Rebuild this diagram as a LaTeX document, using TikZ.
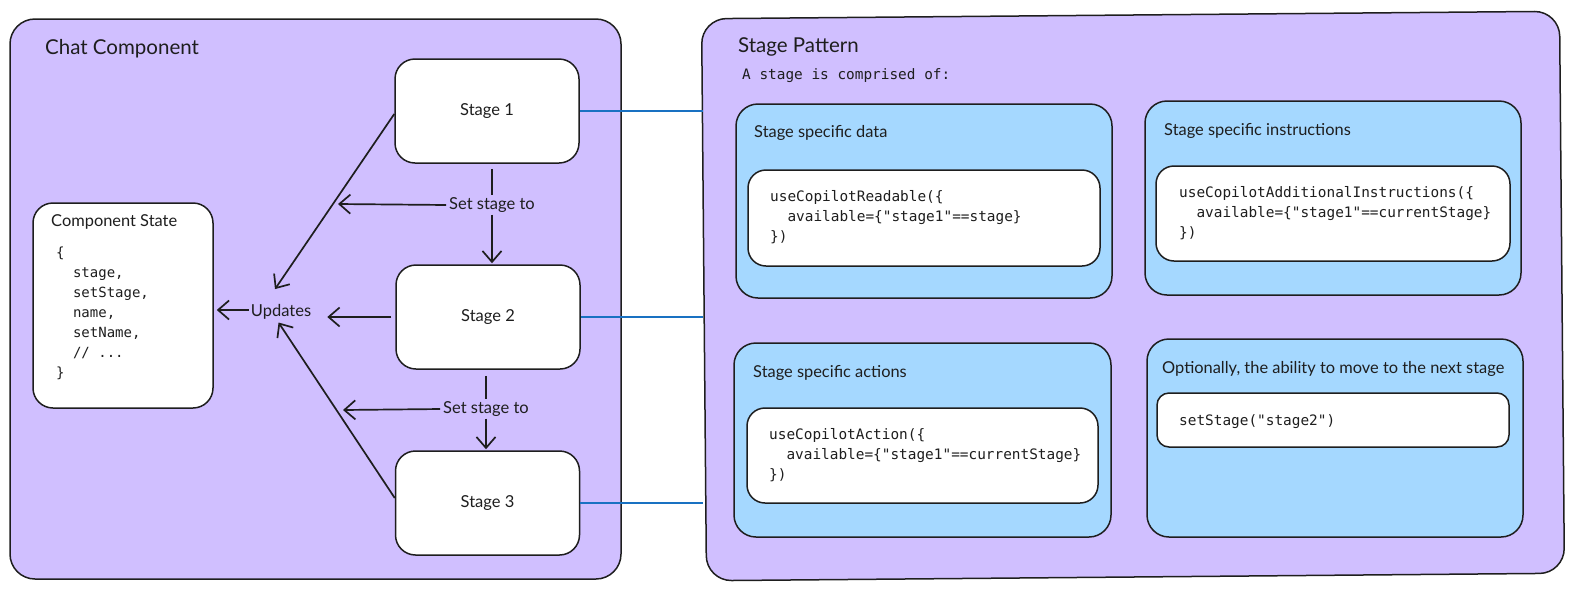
\documentclass[tikz,border=0pt]{standalone}
\usepackage{fontspec}
\setmainfont{Lato}
\setmonofont{DejaVu Sans Mono}
\usetikzlibrary{arrows.meta}
\definecolor{violetbg}{HTML}{D0BFFF}
\definecolor{bluebg}{HTML}{A5D8FF}
\definecolor{ink}{HTML}{1E1E1E}
\definecolor{linkblue}{HTML}{1971C2}
\begin{document}
\begin{tikzpicture}[x=1pt,y=-1pt,
  panel/.style={draw=ink, line width=1.5pt, fill=violetbg, rounded corners=25pt, inner sep=0pt},
  card/.style={draw=ink, line width=1.5pt, fill=bluebg, rounded corners=22pt, inner sep=0pt},
  codebox/.style={draw=ink, line width=1.5pt, fill=white, rounded corners=18pt, inner sep=0pt},
  stagebox/.style={draw=ink, line width=1.5pt, fill=white, rounded corners=20pt, inner sep=0pt,
     minimum width=184pt, minimum height=104pt, text=ink, font=\fontsize{16.5}{19}\selectfont},
  bigtitle/.style={anchor=west, inner sep=0pt, text=ink, font=\fontsize{20.5}{24}\selectfont},
  cardtitle/.style={anchor=west, inner sep=0pt, text=ink, font=\fontsize{16.4}{19}\selectfont},
  lbl/.style={inner sep=2pt, text=ink, font=\fontsize{16.5}{19}\selectfont},
  code/.style={anchor=west, inner sep=0pt, align=left, text=ink, font=\ttfamily\fontsize{14.4}{20}\selectfont},
  plain/.style={draw=ink, line width=1.7pt},
  arr/.style={draw=ink, line width=1.7pt, -{Straight Barb[length=11pt,width=19pt]}},
  link/.style={draw=linkblue, line width=2pt}
]
\useasboundingbox (0,0) rectangle (1569,590);

% ---------- Chat Component ----------
\node[panel, minimum width=611pt, minimum height=560pt] (chat) at (315.5,299) {};
\node[bigtitle] (chatT) at (45,49) {Chat Component};

\node[stagebox] (stage1) at (487,111) {Stage 1};
\node[stagebox] (stage2) at (488,317) {Stage 2};
\node[stagebox] (stage3) at (487.5,503) {Stage 3};

\node[codebox, rounded corners=20pt, minimum width=180pt, minimum height=205pt] (cs) at (123,305.5) {};
\node[cardtitle] (csT) at (51,222) {Component State};
\node[code, font=\ttfamily\fontsize{14}{20}\selectfont] (csC) at (56,313)
  {\{\\\ \ stage,\\\ \ setStage,\\\ \ name,\\\ \ setName,\\\ \ // ...\\\}};

\node[lbl] (updates) at (281,312) {Updates};
\node[lbl] (set1) at (492,205) {Set stage to};
\node[lbl] (set2) at (486,409) {Set stage to};
\coordinate (tip1) at (338,204);
\coordinate (tip2) at (343,410);

% connectors
\draw[plain, shorten <=5pt] (set1.north |- stage1.south) -- (set1.north);
\draw[arr, shorten >=1pt] (set1.south) -- (set1.south |- stage2.north);
\draw[arr, shorten <=1pt] (set1.west) -- (tip1);
\draw[plain, shorten <=6pt] (set2.north |- stage2.south) -- (set2.north);
\draw[arr, shorten >=1pt] (set2.south) -- (set2.south |- stage3.north);
\draw[arr, shorten <=1pt] (set2.west) -- (tip2);

\draw[arr, shorten >=16pt] ([yshift=-3pt]stage1.west) -- ([xshift=-15pt]updates.north);
\draw[arr, shorten <=4pt, shorten >=14pt] (stage2.west) -- (stage2.west -| updates.east);
\draw[arr, shorten >=1pt] ([yshift=5pt]stage3.west) -- ([xshift=-3pt]updates.south);
\draw[arr, shorten >=3pt] ([yshift=2pt]updates.west) -- ([yshift=2pt]updates.west -| cs.east);

% ---------- Stage Pattern ----------
\node[panel, minimum width=858pt, minimum height=562pt, rotate=0.5] (pattern) at (1133,296) {};
\node[bigtitle] (patT) at (738,47) {Stage Pattern};
\node[code] (patS) at (742,76) {A stage is comprised of:};

\node[card, minimum width=376pt, minimum height=194pt] (data) at (924,201) {};
\node[cardtitle] (dataT) at (754,133) {Stage specific data};
\node[codebox, minimum width=352pt, minimum height=96pt] (dataB) at (924,218) {};
\node[code] (dataC) at (770,217)
  {useCopilotReadable(\{\\\ \ available=\{"stage1"==stage\}\\\})};

\node[card, minimum width=376pt, minimum height=194pt] (instr) at (1333,198) {};
\node[cardtitle] (instrT) at (1164,131) {Stage specific instructions};
\node[codebox, minimum width=354pt, minimum height=95pt] (instrB) at (1333,213.5) {};
\node[code] (instrC) at (1179,213)
  {useCopilotAdditionalInstructions(\{\\\ \ available=\{"stage1"==currentStage\}\\\})};

\node[card, minimum width=377pt, minimum height=194pt] (act) at (922.5,440) {};
\node[cardtitle] (actT) at (753,373) {Stage specific actions};
\node[codebox, minimum width=351pt, minimum height=95pt] (actB) at (922.5,455.5) {};
\node[code] (actC) at (769,455)
  {useCopilotAction(\{\\\ \ available=\{"stage1"==currentStage\}\\\})};

\node[card, minimum width=376pt, minimum height=198pt] (opt) at (1335,438) {};
\node[cardtitle] (optT) at (1162,369) {Optionally, the ability to move to the next stage};
\node[codebox, rounded corners=12pt, minimum width=352pt, minimum height=54pt] (optB) at (1333,420) {};
\node[code] (optC) at (1179,422) {setStage("stage2")};

% links
\draw[link] (stage1.east) -- (stage1.east -| pattern.west);
\draw[link] (stage2.east) -- (stage2.east -| pattern.west);
\draw[link] (stage3.east) -- (stage3.east -| pattern.west);
\end{tikzpicture}
\end{document}
